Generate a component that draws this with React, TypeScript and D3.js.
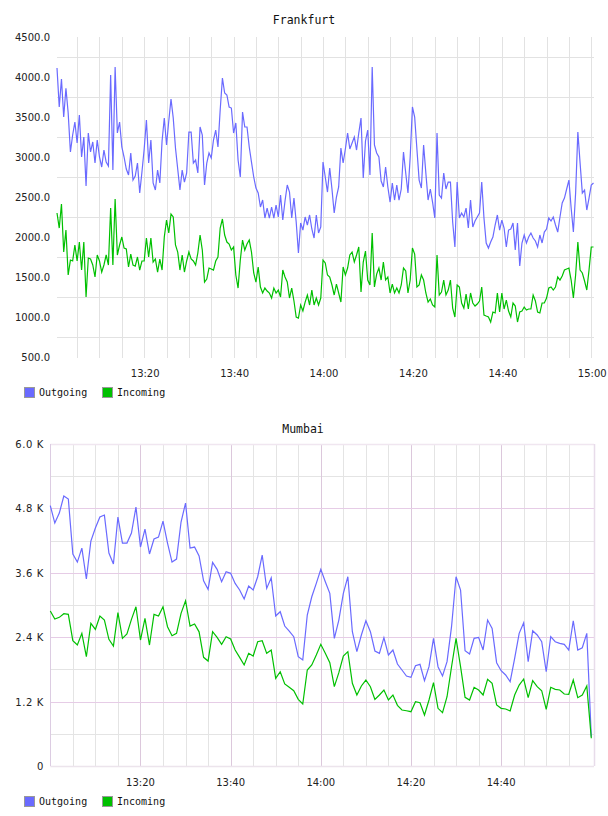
import React from "react";
import * as d3 from "d3";

// ---- Frankfurt: samples every 30 s starting 13:00:30 ----
const frankfurtStart = "13:00:30";
const frankfurtStepSec = 30;
const frankfurtOutgoing = [
  4112, 3625, 3975, 3500, 3860, 3550, 3063, 3275, 3437, 3175, 3525, 3000, 3250, 2637,
  3300, 3063, 3188, 2925, 3212, 3000, 2875, 3087, 2937, 2887, 4025,
  2837, 4125, 3300, 3437, 3125, 3000, 2850, 2775,
  3050, 2712, 2762, 2925, 2550, 2812, 3100, 3462,
  2925, 3212, 2675, 2587, 2837, 2675, 3200, 3487,
  3150, 3450, 3725, 3487, 3112, 2850, 2587,
  2837, 2687, 2800, 3312, 3312, 2925, 2962, 2800, 3375,
  3275, 2650, 2925, 3050, 2987, 3212, 3337, 3125, 3587, 3987,
  3800, 3775, 3625, 3612, 3300, 3425, 2962, 2750,
  3562, 3375, 3375, 3125, 2937, 2750, 2612, 2550, 2375, 2462,
  2237, 2362, 2237, 2375, 2237, 2400, 2250, 2525,
  2212, 2450, 2650, 2562, 2237, 2487, 2187, 1800,
  2175, 2087, 2250, 2150, 2275, 2100, 1987, 2275, 2050, 2125,
  2937, 2750, 2562, 2862, 2600, 2300, 2500, 2625, 3112, 2925,
  3100, 3300, 3100, 3175, 3250, 3087, 3300, 3487, 2737, 3200,
  3337, 2775, 4125, 3150, 3050, 3000, 2700, 2625, 2875, 2625,
  2437, 2675, 2462, 2650, 2462,
  2600, 3062, 2800, 2550, 3000, 3625, 3500, 3100, 2712, 2612,
  3150, 2800, 2462, 2600, 2437, 2237, 3300, 2525, 2487, 2800,
  2600, 2687, 2687, 2187, 1875, 2687, 2237, 2300, 2250, 2362,
  2112, 2462, 2125, 2200, 2250, 2300, 2687, 2237, 1925, 1862,
  1937, 2000, 2150, 2275, 2087, 2212, 2112, 1875, 2087, 2100,
  2175, 1837, 2175, 1637, 1925, 2025, 1925, 2000, 2050, 1987,
  1950, 1875, 2025, 1925, 2062, 2100, 2237, 2200, 2250, 2150,
  2062, 2250, 2425, 2487, 2600, 2712, 2362, 2062, 2550, 3312,
  2925, 2550, 2587, 2337, 2487, 2650, 2675,
];
const frankfurtIncoming = [
  2300, 2112, 2412, 1812, 2087, 1525, 1712, 1700, 1900, 1700, 1937, 1587, 1937, 1250,
  1737, 1725, 1650, 1500, 1775, 1700, 1562, 1650, 1775, 1650,
  2362, 1650, 2475,
  1775, 1900, 2000, 1862, 1850, 1625, 1787, 1650, 1637, 1750, 1587, 1700,
  1700, 1987, 1750, 1987, 1687, 1725, 1562, 1725, 1587, 2000, 2212, 2050, 2287,
  2250, 1900, 1812, 1587, 1775, 1562, 1700, 1812, 1725, 1700, 1650, 1800, 2025,
  1837, 1437, 1475, 1612, 1600, 1587, 1700, 1750, 2112,
  2225, 2025, 1937, 1912, 1837, 1875, 1525, 1362, 1712, 1962, 1837, 1912, 1962,
  1812, 1550, 1437, 1625,
  1375, 1300, 1362, 1325, 1300, 1237, 1362, 1300, 1337, 1250, 1587, 1500, 1437,
  1237, 1362, 1200, 1000, 987, 1150, 1075, 1187, 1275, 1150, 1337, 1150, 1237,
  1150, 1237,
  1712, 1675, 1525, 1500, 1400, 1275, 1412, 1300, 1187, 1625, 1525, 1612, 1775,
  1812, 1687, 1775, 1875,
  1312, 1687, 1825, 1462, 1400, 2050, 1375, 1537, 1612, 1462, 1687, 1462, 1500,
  1300, 1412, 1300, 1362, 1300,
  1400, 1612, 1575, 1300, 1462, 1862, 1787, 1375, 1400, 1525,
  1462, 1300, 1187, 1225, 1150, 1125, 1775, 1275, 1312, 1462,
  1275, 1337, 1462, 1112, 1000, 1400, 1375, 1175, 1112, 1287,
  1100, 1300, 1175, 1137, 1162, 1200, 1375, 1025, 1012, 1000,
  937, 1062, 1050, 1300, 1062, 1300, 1100, 1212, 1075, 1000,
  1175, 1137, 937, 1062, 1075, 1125, 1087, 1100, 1100, 1275,
  1200, 1062, 1050, 1175, 1175, 1237, 1362, 1375, 1337, 1375,
  1500, 1462, 1512, 1587, 1600, 1612, 1462, 1237, 1525, 1937,
  1587, 1550, 1450, 1337, 1587, 1875, 1875,
];
const frankfurtYTicks = [500, 1000, 1500, 2000, 2500, 3000, 3500, 4000, 4500];
const frankfurtYGrid = [750, 1250, 1750, 2250, 2750, 3250, 3750, 4250];
const frankfurtXTicks = ["13:20", "13:40", "14:00", "14:20", "14:40", "15:00"];

// ---- Mumbai: samples every minute starting 13:00 ----
const mumbaiStart = "13:00:00";
const mumbaiStepSec = 60;
const mumbaiOutgoing = [
  4850, 4527, 4713, 5030, 4974, 3950, 3800, 4061, 3484, 4192,
  4434, 4639, 4676, 3968, 3763, 4639, 4154, 4154, 4341, 4825,
  4080, 4415, 3950, 4229, 4266, 4564, 4154, 3800, 3856, 4546,
  4900, 4061, 4080, 3913, 3450, 3291, 3795, 3665, 3434, 3620,
  3590, 3403, 3279, 3111, 3353, 3279, 3527, 3931, 3310, 3508,
  2795, 2875, 2608, 2515, 2409, 2036, 1975, 2813, 3154, 3403,
  3665, 3434, 3217, 2379, 2720, 3217, 3527, 2502, 2130, 2441,
  2707, 2502, 2143, 2099, 2391, 2068, 2161, 1900, 1789, 1677,
  1652, 1869, 1894, 1590, 1850, 2379, 1850, 1677, 1944, 2596,
  3527, 3279, 2149, 2087, 2379, 2397, 2161, 2720, 2565, 1925,
  1776, 1696, 1571, 2006, 2472, 2670, 1944, 2521, 2441, 2316,
  1757, 2409, 2316, 2286, 2267, 2161, 2707, 2161, 2204, 2472,
  546,
];
const mumbaiIncoming = [
  2888, 2739, 2770, 2838, 2826, 2335, 2254, 2472, 2036, 2658,
  2546, 2795, 2720, 2360, 2236, 2857, 2379, 2459, 2733, 2968,
  2347, 2751, 2254, 2826, 2795, 2968, 2596, 2428, 2472, 2845,
  3080, 2608, 2645, 2500, 2025, 1956, 2502, 2397, 2267, 2409,
  2366, 2161, 2025, 1882, 2099, 2050, 2316, 2335, 2099, 2161,
  1633, 1757, 1528, 1466, 1403, 1242, 1155, 1789, 1882, 2068,
  2267, 2099, 1925, 1478, 1739, 2050, 2130, 1541, 1323, 1491,
  1602, 1478, 1242, 1323, 1416, 1230, 1323, 1130, 1043, 1030,
  1012, 1198, 1180, 950, 1230, 1552, 1075, 993, 1291, 1850,
  2379, 1850, 1280, 1230, 1466, 1416, 1323, 1615, 1541, 1137,
  1075, 1062, 1025, 1323, 1509, 1621, 1273, 1590, 1478, 1403,
  1056, 1466, 1429, 1416, 1342, 1336, 1602, 1273, 1323, 1491,
  516,
];
const mumbaiYTicks = [0, 1200, 2400, 3600, 4800, 6000];
const mumbaiYMinorGrid = [600, 1800, 3000, 4200, 5400];
const mumbaiXTicks = ["13:20", "13:40", "14:00", "14:20", "14:40"];

const seriesNames = ["Outgoing", "Incoming"];
const seriesColors = ["#6a6aff", "#00c000"];

const clock = (s: string) => {
  const [h, m, sec] = s.split(":").map(Number);
  return new Date(2000, 0, 1, h, m, sec || 0);
};

const toPoints = (values: number[], start: string, stepSec: number) => {
  const t0 = clock(start).getTime();
  return values.map((v, i) => ({ t: new Date(t0 + i * stepSec * 1000), v }));
};

const TICK_FONT = "'DejaVu Sans', Verdana, sans-serif";
const MONO_FONT = "'DejaVu Sans Mono', monospace";

function Legend({ y }: { y: number }) {
  const xs = [24, 102];
  return (
    <g>
      {seriesNames.map((name, i) => (
        <g key={name}>
          <rect x={xs[i] + 0.5} y={y + 0.5} width={10} height={10}
            fill={seriesColors[i]} stroke="#999" strokeWidth={1} />
          <text x={xs[i] + 15} y={y + 9} fontFamily={MONO_FONT} fontSize={10} fill="#111">
            {name}
          </text>
        </g>
      ))}
    </g>
  );
}

function Frankfurt() {
  const left = 57, right = 593.5, top = 37, bottom = 357;
  const x = d3.scaleTime().domain([clock("13:00:30"), clock("15:00:30")]).range([left, right]);
  const y = d3.scaleLinear().domain([500, 4500]).range([bottom, top]);
  const line = d3.line<{ t: Date; v: number }>().x(d => x(d.t)).y(d => y(d.v));
  const out = toPoints(frankfurtOutgoing, frankfurtStart, frankfurtStepSec);
  const inc = toPoints(frankfurtIncoming, frankfurtStart, frankfurtStepSec);
  const vGrid = d3.timeMinute.every(5)!.range(clock("13:05:00"), clock("15:00:01"));
  return (
    <g>
      <text x={304} y={24} textAnchor="middle" fontFamily={MONO_FONT} fontSize={11.5} fill="#111">
        Frankfurt
      </text>
      {vGrid.map((t, i) => (
        <line key={"v" + i} x1={Math.round(x(t)) + 0.5} x2={Math.round(x(t)) + 0.5}
          y1={top} y2={bottom + 1} stroke="#e2e2e2" />
      ))}
      {frankfurtYGrid.map(v => (
        <line key={"h" + v} x1={left} x2={594} y1={Math.round(y(v)) + 0.5}
          y2={Math.round(y(v)) + 0.5} stroke="#e2e2e2" />
      ))}
      {frankfurtYTicks.map(v => (
        <text key={"yt" + v} x={50} y={y(v) + 4} textAnchor="end" fontFamily={TICK_FONT}
          fontSize={10} fill="#222">
          {d3.format(".1f")(v)}
        </text>
      ))}
      {frankfurtXTicks.map(s => (
        <text key={"xt" + s} x={x(clock(s)) + 1} y={377} textAnchor="middle" fontFamily={TICK_FONT}
          fontSize={10} fill="#222">
          {s}
        </text>
      ))}
      <path d={line(out)!} fill="none" stroke={seriesColors[0]} strokeWidth={1.2} />
      <path d={line(inc)!} fill="none" stroke={seriesColors[1]} strokeWidth={1.2} />
      <Legend y={387} />
    </g>
  );
}

function Mumbai() {
  const left = 50.3, right = 591.3, top = 444, bottom = 766, border = 594;
  const x = d3.scaleTime().domain([clock("13:00:00"), clock("15:00:00")]).range([left, right]);
  const y = d3.scaleLinear().domain([0, 6000]).range([bottom, top]);
  const line = d3.line<{ t: Date; v: number }>().x(d => x(d.t)).y(d => y(d.v));
  const out = toPoints(mumbaiOutgoing, mumbaiStart, mumbaiStepSec);
  const inc = toPoints(mumbaiIncoming, mumbaiStart, mumbaiStepSec);
  const majors = mumbaiXTicks.map(clock);
  const majorSet = new Set(majors.map(d => d.getTime()));
  const vMinor = d3.timeMinute.every(5)!.range(clock("13:05:00"), clock("15:00:00"))
    .filter(t => !majorSet.has(t.getTime()));
  const fmt = (v: number) => (v === 0 ? "0" : d3.format(".1f")(v / 1000) + " K");
  const px = (v: number) => Math.round(v) + 0.5;
  return (
    <g>
      <text x={303} y={433} textAnchor="middle" fontFamily={MONO_FONT} fontSize={11.5} fill="#111">
        Mumbai
      </text>
      {vMinor.map((t, i) => (
        <line key={"vm" + i} x1={px(x(t))} x2={px(x(t))} y1={top} y2={bottom} stroke="#e4e4e4" />
      ))}
      {mumbaiYMinorGrid.map(v => (
        <line key={"hm" + v} x1={left} x2={border} y1={px(y(v))} y2={px(y(v))} stroke="#e4e4e4" />
      ))}
      {majors.map((t, i) => (
        <line key={"vM" + i} x1={px(x(t))} x2={px(x(t))} y1={top} y2={bottom} stroke="#dcc8dc" />
      ))}
      {mumbaiYTicks.filter(v => v > 0 && v < 6000).map(v => (
        <line key={"hM" + v} x1={left} x2={border} y1={px(y(v))} y2={px(y(v))} stroke="#e6cce6" />
      ))}
      <line x1={left} x2={border} y1={px(top)} y2={px(top)} stroke="#f0e6f0" strokeWidth={1.5} />
      <line x1={left} x2={border} y1={px(bottom)} y2={px(bottom)} stroke="#ece4ec" strokeWidth={1.5} />
      <line x1={px(left)} x2={px(left)} y1={top} y2={bottom} stroke="#dccce2" />
      <line x1={px(border)} x2={px(border)} y1={top} y2={bottom} stroke="#e8dcea" strokeWidth={1.5} />
      {mumbaiYTicks.map(v => (
        <text key={"yt" + v} x={44} y={y(v) + 4} textAnchor="end" fontFamily={TICK_FONT}
          fontSize={10} fill="#222" letterSpacing={0.6}>
          {fmt(v)}
        </text>
      ))}
      {mumbaiXTicks.map(s => (
        <text key={"xt" + s} x={x(clock(s))} y={786} textAnchor="middle" fontFamily={TICK_FONT}
          fontSize={10} fill="#222">
          {s}
        </text>
      ))}
      <path d={line(out)!} fill="none" stroke={seriesColors[0]} strokeWidth={1.2} />
      <path d={line(inc)!} fill="none" stroke={seriesColors[1]} strokeWidth={1.2} />
      <Legend y={796} />
    </g>
  );
}

export default function App() {
  return (
    <svg width={608} height={816} style={{ position: "absolute", left: 0, top: 0, background: "#fff" }}>
      <rect width={608} height={816} fill="#fff" />
      <Frankfurt />
      <Mumbai />
    </svg>
  );
}
